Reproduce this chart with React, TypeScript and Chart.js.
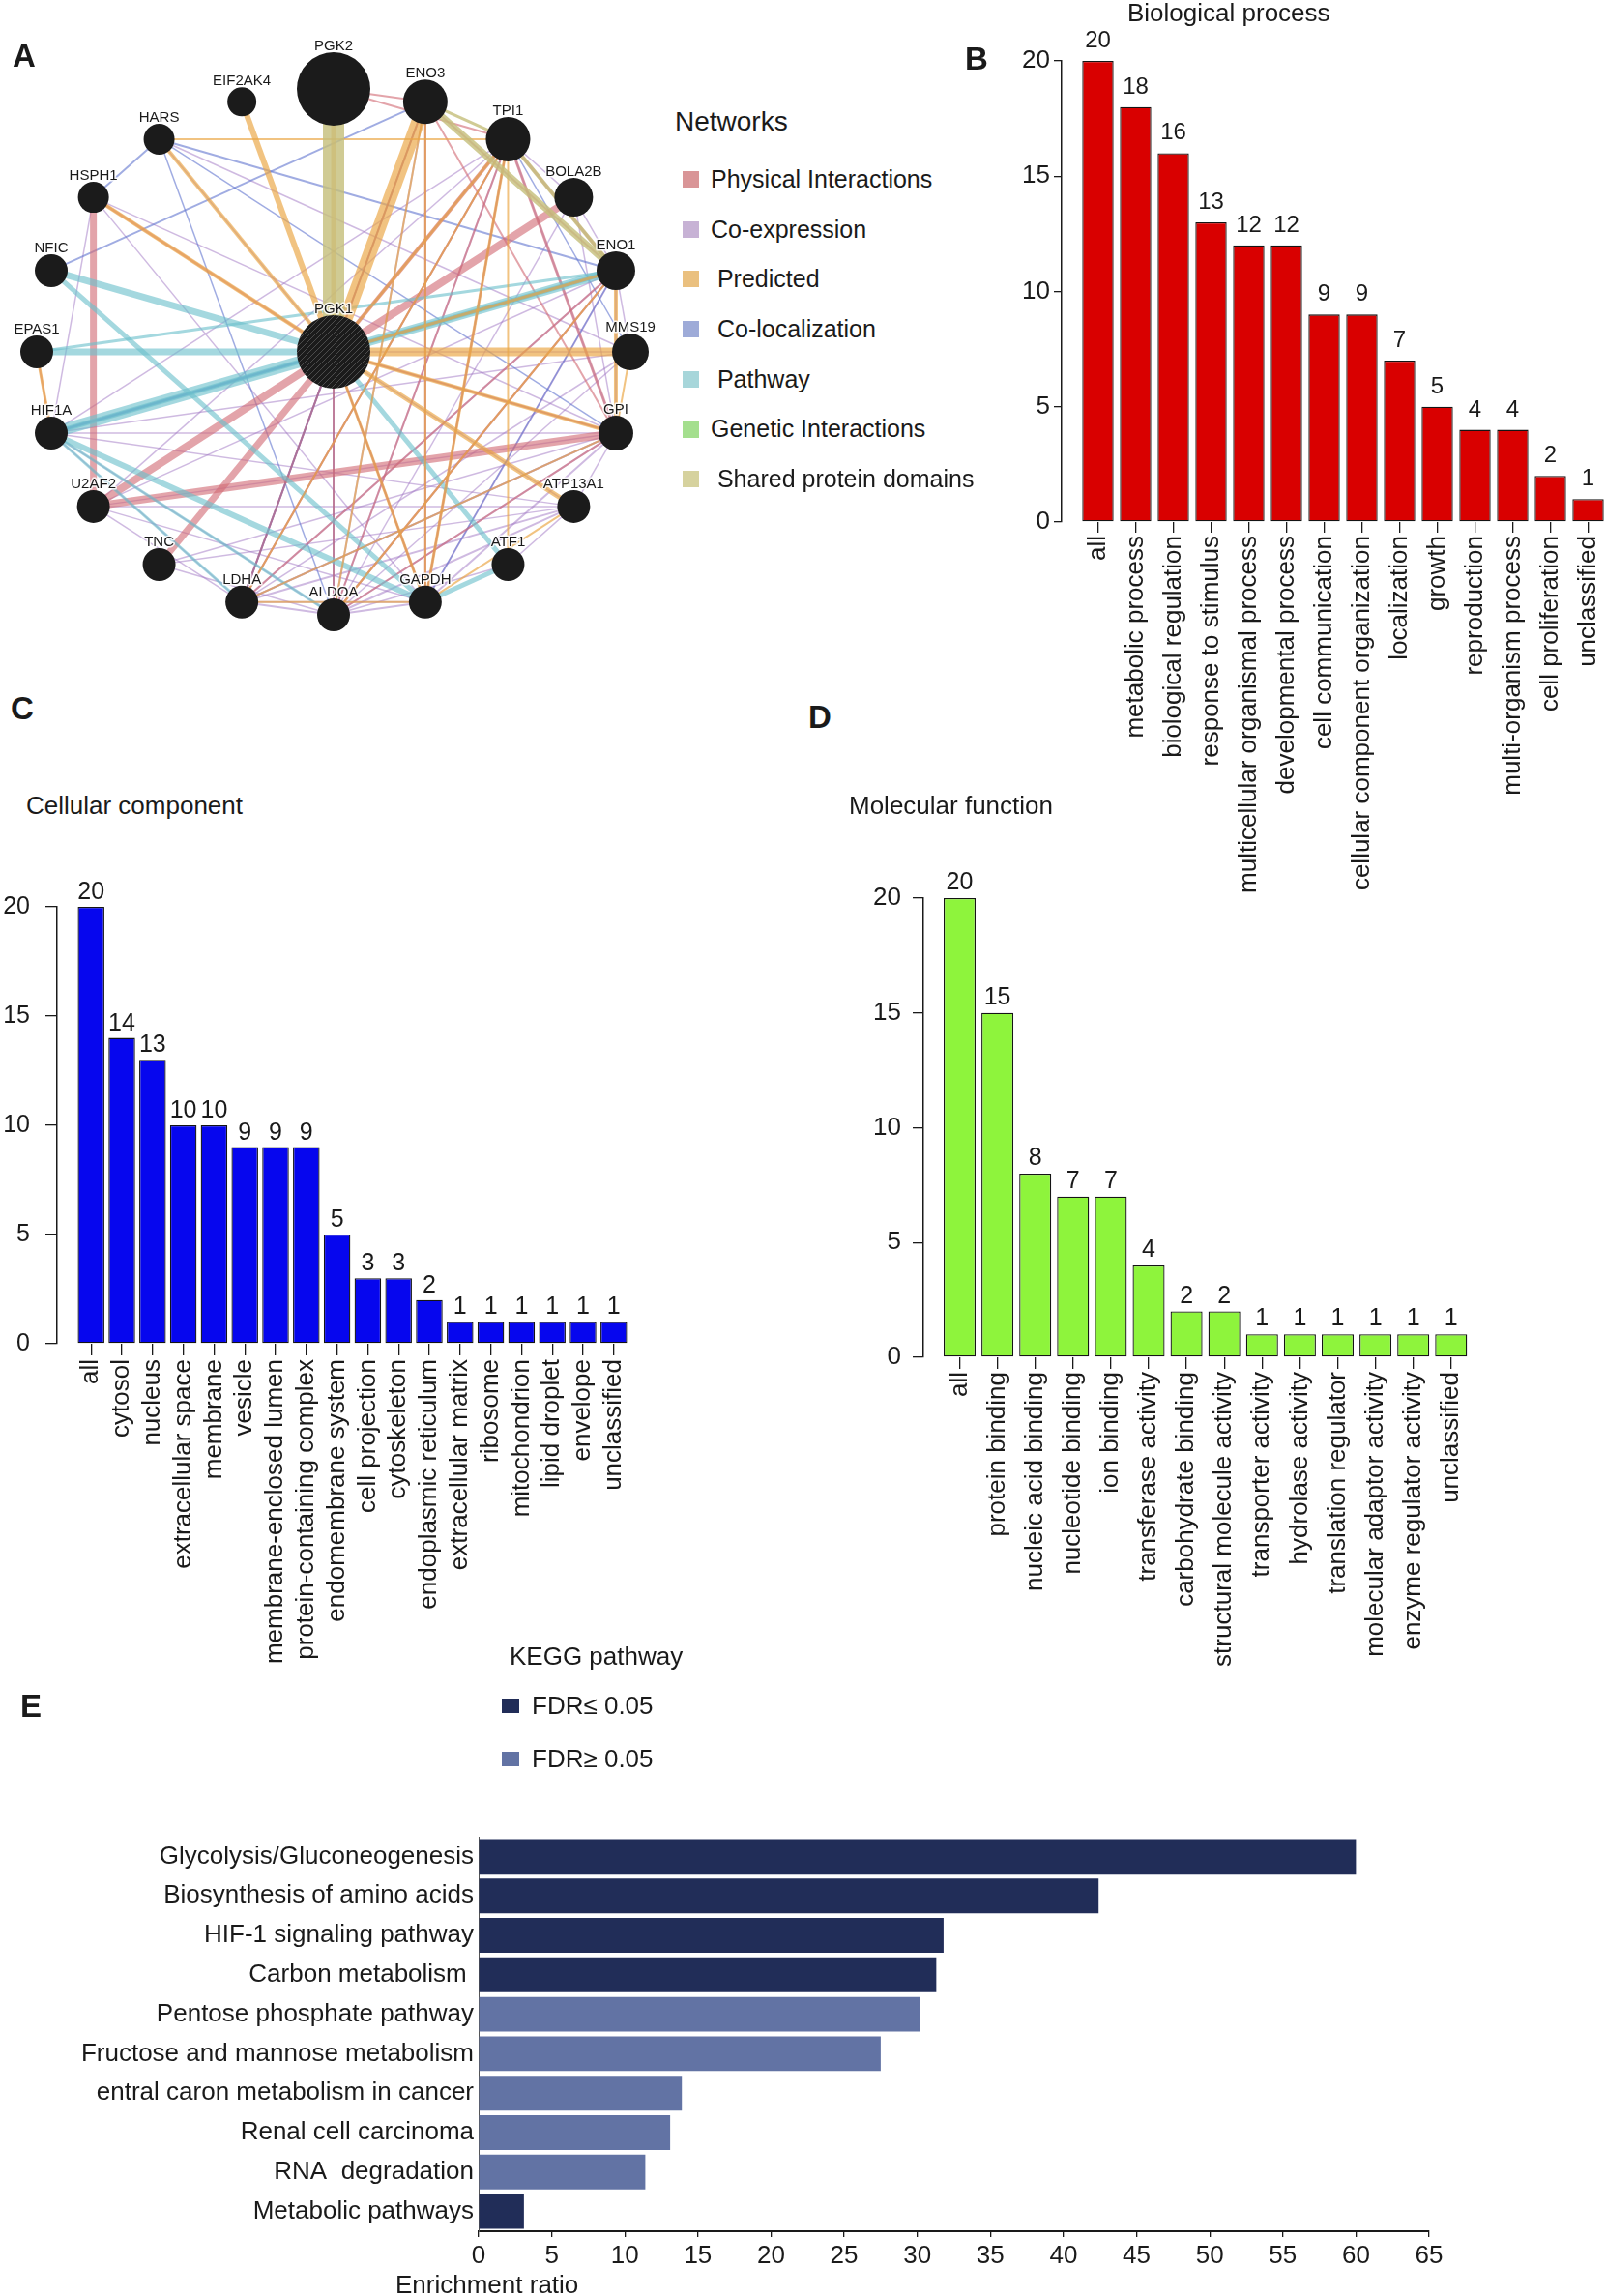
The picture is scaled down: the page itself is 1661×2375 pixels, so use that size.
import React, { useEffect, useRef } from 'react';
import { Chart, registerables } from 'chart.js';

Chart.register(...registerables);

const FONT = "'Liberation Sans', Arial, Helvetica, sans-serif";
Chart.defaults.font.family = FONT;
Chart.defaults.color = '#1a1a1a';

// ---------------- Panel A: network ----------------
const networkNodes = ['PGK1', 'PGK2', 'ENO3', 'TPI1', 'BOLA2B', 'ENO1', 'MMS19', 'GPI', 'ATP13A1', 'ATF1', 'GAPDH', 'ALDOA', 'LDHA', 'TNC', 'U2AF2', 'HIF1A', 'EPAS1', 'NFIC', 'HSPH1', 'HARS', 'EIF2AK4'];
const nodeRadius = [38, 38, 23, 23, 20, 20, 19, 18, 17, 17, 17, 17, 17, 17, 17, 17, 17, 17, 16, 16, 15];
const networkTypes = ['Physical Interactions', 'Co-expression', ' Predicted', ' Co-localization', ' Pathway', 'Genetic Interactions', ' Shared protein domains'];
const networkTypeKeys = ['phys', 'coexp', 'pred', 'coloc', 'path', 'gen', 'dom'];
const legendColors = ['#d99597', '#c7b2d5', '#eac07f', '#9eabd8', '#a7d6da', '#a4df8e', '#d6d29e'];
const edgeColors = ['rgba(210,108,118,0.62)', 'rgba(160,118,196,0.5)', 'rgba(234,166,70,0.68)', 'rgba(96,116,206,0.6)', 'rgba(108,192,204,0.62)', 'rgba(140,210,110,0.6)', 'rgba(198,192,124,0.82)'];
const networkEdges: [string, string, string, number][] = [
  ['PGK1', 'PGK2', 'dom', 22], ['ENO3', 'ENO1', 'dom', 7], ['TPI1', 'ENO1', 'dom', 4], ['ENO3', 'TPI1', 'dom', 3],
  ['PGK1', 'ENO3', 'pred', 14], ['PGK1', 'PGK2', 'pred', 5], ['PGK1', 'EIF2AK4', 'pred', 6], ['PGK1', 'MMS19', 'pred', 9],
  ['PGK1', 'HARS', 'pred', 4], ['PGK1', 'HSPH1', 'pred', 4], ['PGK1', 'ATP13A1', 'pred', 5], ['PGK1', 'GPI', 'pred', 4],
  ['PGK1', 'TPI1', 'pred', 3], ['PGK1', 'GAPDH', 'pred', 3], ['PGK1', 'ENO1', 'pred', 3], ['HARS', 'TPI1', 'pred', 2],
  ['ENO1', 'GPI', 'pred', 4], ['MMS19', 'GPI', 'pred', 2], ['EPAS1', 'HIF1A', 'pred', 3], ['TPI1', 'GAPDH', 'pred', 3],
  ['ENO3', 'GAPDH', 'pred', 2], ['TPI1', 'ATF1', 'pred', 2], ['ENO1', 'ALDOA', 'pred', 2], ['ENO3', 'ALDOA', 'pred', 2],
  ['GPI', 'LDHA', 'pred', 2], ['ATP13A1', 'GAPDH', 'pred', 2], ['LDHA', 'GAPDH', 'pred', 2], ['TPI1', 'LDHA', 'pred', 2],
  ['PGK1', 'HIF1A', 'path', 12], ['PGK1', 'NFIC', 'path', 7], ['PGK1', 'EPAS1', 'path', 7], ['PGK1', 'ENO1', 'path', 9],
  ['HIF1A', 'ENO1', 'path', 5], ['HIF1A', 'GAPDH', 'path', 6], ['NFIC', 'GAPDH', 'path', 5], ['PGK1', 'ATF1', 'path', 5],
  ['ATF1', 'GAPDH', 'path', 5], ['HIF1A', 'LDHA', 'path', 3], ['HIF1A', 'ALDOA', 'path', 3], ['EPAS1', 'ENO1', 'path', 3],
  ['HSPH1', 'U2AF2', 'phys', 7], ['U2AF2', 'GPI', 'phys', 8], ['U2AF2', 'BOLA2B', 'phys', 8], ['TNC', 'PGK1', 'phys', 7],
  ['PGK1', 'TPI1', 'phys', 4], ['HSPH1', 'PGK1', 'phys', 2.5], ['EPAS1', 'HIF1A', 'phys', 2], ['PGK2', 'ENO3', 'phys', 2],
  ['PGK2', 'TPI1', 'phys', 2], ['ENO3', 'GPI', 'phys', 2], ['ENO3', 'ENO1', 'phys', 2], ['TPI1', 'GPI', 'phys', 3],
  ['TPI1', 'ENO1', 'phys', 3], ['TPI1', 'GAPDH', 'phys', 2], ['TPI1', 'LDHA', 'phys', 2], ['TPI1', 'ALDOA', 'phys', 2],
  ['ENO1', 'LDHA', 'phys', 2], ['ENO1', 'ALDOA', 'phys', 2], ['ENO1', 'PGK1', 'phys', 3], ['GPI', 'ALDOA', 'phys', 2],
  ['GPI', 'PGK1', 'phys', 2], ['PGK1', 'GAPDH', 'phys', 2], ['PGK1', 'ALDOA', 'phys', 2], ['ENO3', 'LDHA', 'phys', 2],
  ['ENO3', 'GAPDH', 'phys', 2],
  ['NFIC', 'ENO3', 'coloc', 2], ['HSPH1', 'HARS', 'coloc', 2], ['HARS', 'ENO1', 'coloc', 2], ['HARS', 'ALDOA', 'coloc', 1.5],
  ['HIF1A', 'ENO1', 'coloc', 2], ['HIF1A', 'PGK1', 'coloc', 3], ['ENO3', 'LDHA', 'coloc', 1.5], ['PGK1', 'LDHA', 'coloc', 1.5],
  ['PGK1', 'ALDOA', 'coloc', 1.5], ['TPI1', 'MMS19', 'coloc', 1.5], ['HARS', 'GPI', 'coloc', 1.5], ['ENO1', 'GAPDH', 'coloc', 1.5],
  ['HIF1A', 'GPI', 'coexp', 1.5], ['HIF1A', 'ATP13A1', 'coexp', 1.5], ['U2AF2', 'ATP13A1', 'coexp', 1.5], ['HSPH1', 'HIF1A', 'coexp', 1.5],
  ['HSPH1', 'GAPDH', 'coexp', 1.5], ['HARS', 'MMS19', 'coexp', 1.5], ['HIF1A', 'ALDOA', 'coexp', 1.5], ['HIF1A', 'LDHA', 'coexp', 1.5],
  ['U2AF2', 'LDHA', 'coexp', 1.5], ['U2AF2', 'GAPDH', 'coexp', 1.5], ['TNC', 'ALDOA', 'coexp', 1.5], ['LDHA', 'ALDOA', 'coexp', 2],
  ['ALDOA', 'GAPDH', 'coexp', 2], ['LDHA', 'GAPDH', 'coexp', 2], ['GPI', 'LDHA', 'coexp', 2], ['GPI', 'ALDOA', 'coexp', 2],
  ['GPI', 'GAPDH', 'coexp', 2], ['ENO1', 'LDHA', 'coexp', 2], ['ENO1', 'ALDOA', 'coexp', 2], ['ENO1', 'GAPDH', 'coexp', 2],
  ['TPI1', 'LDHA', 'coexp', 2], ['TPI1', 'ALDOA', 'coexp', 2], ['TPI1', 'GAPDH', 'coexp', 2], ['ENO3', 'LDHA', 'coexp', 2],
  ['ENO3', 'ALDOA', 'coexp', 2], ['ENO3', 'GAPDH', 'coexp', 2], ['ATP13A1', 'LDHA', 'coexp', 2], ['ATP13A1', 'ALDOA', 'coexp', 2],
  ['MMS19', 'LDHA', 'coexp', 1.5], ['MMS19', 'ALDOA', 'coexp', 1.5], ['BOLA2B', 'ALDOA', 'coexp', 1.5], ['BOLA2B', 'GPI', 'coexp', 1.5],
  ['BOLA2B', 'ENO1', 'coexp', 1.5], ['TPI1', 'BOLA2B', 'coexp', 1.5], ['TPI1', 'GPI', 'coexp', 2], ['ENO1', 'GPI', 'coexp', 2],
  ['ENO1', 'MMS19', 'coexp', 1.5], ['GPI', 'ATP13A1', 'coexp', 1.5], ['PGK1', 'LDHA', 'coexp', 2], ['PGK1', 'ALDOA', 'coexp', 2],
  ['PGK1', 'GAPDH', 'coexp', 2], ['PGK1', 'GPI', 'coexp', 2], ['PGK1', 'ENO1', 'coexp', 2], ['PGK1', 'TPI1', 'coexp', 2],
  ['PGK1', 'MMS19', 'coexp', 1.5], ['PGK1', 'ATP13A1', 'coexp', 1.5], ['HARS', 'PGK1', 'coexp', 1.5], ['TPI1', 'HIF1A', 'coexp', 1.5],
  ['GPI', 'TNC', 'coexp', 1.5], ['ATF1', 'ALDOA', 'coexp', 1.5], ['ATP13A1', 'ATF1', 'coexp', 1.5],
  ['GPI', 'U2AF2', 'coexp', 1.5], ['ATP13A1', 'TNC', 'coexp', 1.5], ['GPI', 'HSPH1', 'coexp', 1.5], ['MMS19', 'HIF1A', 'coexp', 1.5],
  ['ENO1', 'HIF1A', 'coexp', 1.5], ['ENO1', 'U2AF2', 'coexp', 1.5], ['TPI1', 'U2AF2', 'coexp', 1.5], ['GPI', 'LDHA', 'coexp', 2],
];

// ---------------- Panel B: Biological process ----------------
const bpLabels = ['all', 'metabolic process', 'biological regulation', 'response to stimulus', 'multicellular organismal process', 'developmental process', 'cell communication', 'cellular component organization', 'localization', 'growth', 'reproduction', 'multi-organism process', 'cell proliferation', 'unclassified'];
const bpValues = [20, 18, 16, 13, 12, 12, 9, 9, 7, 5, 4, 4, 2, 1];

// ---------------- Panel C: Cellular component ----------------
const ccLabels = ['all', 'cytosol', 'nucleus', 'extracellular space', 'membrane', 'vesicle', 'membrane-enclosed lumen', 'protein-containing complex', 'endomembrane system', 'cell projection', 'cytoskeleton', 'endoplasmic reticulum', 'extracellular matrix', 'ribosome', 'mitochondrion', 'lipid droplet', 'envelope', 'unclassified'];
const ccValues = [20, 14, 13, 10, 10, 9, 9, 9, 5, 3, 3, 2, 1, 1, 1, 1, 1, 1];

// ---------------- Panel D: Molecular function ----------------
const mfLabels = ['all', 'protein binding', 'nucleic acid binding', 'nucleotide binding', 'ion binding', 'transferase activity', 'carbohydrate binding', 'structural molecule activity', 'transporter activity', 'hydrolase activity', 'translation regulator', 'molecular adaptor activity', 'enzyme regulator activity', 'unclassified'];
const mfValues = [20, 15, 8, 7, 7, 4, 2, 2, 1, 1, 1, 1, 1, 1];

// ---------------- Panel E: KEGG ----------------
const keggLabels = ['Glycolysis/Gluconeogenesis', 'Biosynthesis of amino acids', 'HIF-1 signaling pathway', 'Carbon metabolism ', 'Pentose phosphate pathway', 'Fructose and mannose metabolism', 'entral caron metabolism in cancer', 'Renal cell carcinoma', 'RNA  degradation', 'Metabolic pathways'];
const keggValues = [60, 42.4, 31.8, 31.3, 30.2, 27.5, 13.9, 13.1, 11.4, 3.1];
const keggSignificant = [true, true, true, true, false, false, false, false, false, true];
const keggLegend = ['FDR\u2264 0.05', 'FDR\u2265 0.05'];

const KEGG_DARK = '#212d58';
const KEGG_LIGHT = '#6273a4';

const valueLabelPlugin = {
  id: 'valueLabels',
  afterDatasetsDraw(chart: any, _args: any, opts: any) {
    if (!opts || !opts.size) return;
    const ctx = chart.ctx;
    const meta = chart.getDatasetMeta(0);
    const data = chart.data.datasets[0].data;
    ctx.save();
    ctx.font = `${opts.size}px ${FONT}`;
    ctx.fillStyle = '#1a1a1a';
    ctx.textAlign = 'center';
    ctx.textBaseline = 'alphabetic';
    meta.data.forEach((el: any, i: number) => {
      const d = data[i];
      const v = typeof d === 'number' ? d : d.y;
      ctx.fillText(String(v), el.x, el.y - opts.gap);
    });
    ctx.restore();
  },
};

const nodeLabelPlugin = {
  id: 'nodeLabels',
  afterDatasetsDraw(chart: any) {
    const ctx = chart.ctx;
    const meta = chart.getDatasetMeta(0);
    ctx.save();
    ctx.font = `15px ${FONT}`;
    ctx.textAlign = 'center';
    ctx.textBaseline = 'alphabetic';
    ctx.lineJoin = 'round';
    meta.data.forEach((el: any, i: number) => {
      const y = el.y - nodeRadius[i] - 2;
      ctx.strokeStyle = 'rgba(255,255,255,0.85)';
      ctx.lineWidth = 3;
      ctx.strokeText(networkNodes[i], el.x, y);
      ctx.fillStyle = '#1a1a1a';
      ctx.fillText(networkNodes[i], el.x, y);
    });
    ctx.restore();
  },
};

function makeHatch(): any {
  const c = document.createElement('canvas');
  c.width = 6;
  c.height = 6;
  const g = c.getContext('2d');
  if (!g) return '#1b1b1b';
  g.fillStyle = '#1b1b1b';
  g.fillRect(0, 0, 6, 6);
  g.strokeStyle = '#4c4c4c';
  g.lineWidth = 1;
  g.beginPath();
  g.moveTo(0, 6);
  g.lineTo(6, 0);
  g.stroke();
  return g.createPattern(c, 'repeat') || '#1b1b1b';
}

function makeNetworkConfig(): any {
  const ringCount = networkNodes.length - 1;
  const pos = networkNodes.map((_, i) => {
    if (i === 0) return { x: 0, y: 0 };
    const a = ((i - 1) * 2 * Math.PI) / ringCount;
    return { x: Math.sin(a), y: Math.cos(a) };
  });
  const idx = (n: string) => networkNodes.indexOf(n);
  const hatch = makeHatch();
  const edgeSets = networkEdges.map(([a, b, t, w]) => ({
    type: 'scatter',
    showLine: true,
    data: [pos[idx(a)], pos[idx(b)]],
    borderColor: edgeColors[networkTypeKeys.indexOf(t)],
    borderWidth: w,
    pointRadius: 0,
    pointHoverRadius: 0,
    clip: false,
    order: 1,
  }));
  const nodeSet = {
    type: 'scatter',
    data: pos,
    pointRadius: nodeRadius,
    pointHoverRadius: nodeRadius,
    pointBackgroundColor: (c: any) => (c.dataIndex === 0 ? hatch : '#1b1b1b'),
    pointBorderWidth: 0,
    clip: false,
    order: 0,
  };
  return {
    type: 'scatter',
    data: { datasets: [nodeSet, ...edgeSets] },
    options: {
      responsive: false,
      animation: false,
      events: [],
      layout: { padding: { left: 38, right: 38, top: 92, bottom: 44 } },
      plugins: { legend: { display: false }, tooltip: { enabled: false } },
      scales: {
        x: { type: 'linear', min: -1, max: 1, display: false },
        y: { type: 'linear', min: -1, max: 1, display: false },
      },
    },
    plugins: [nodeLabelPlugin],
  };
}

type BarLayout = {
  canvasLeft: number; canvasTop: number; canvasW: number; canvasH: number;
  axisX: number; firstCenter: number; pitch: number; right: number;
  areaTop: number; areaBottom: number; barPct: number;
  xTickLen: number; xPad: number; yTickLen: number; yPad: number;
  tickSize: number; labelSize: number; valueSize: number; valueGap: number;
};

function makeBarConfig(labels: string[], values: number[], color: string, L: BarLayout): any {
  const min = -(L.firstCenter - L.axisX) / L.pitch;
  const max = (L.right - L.firstCenter) / L.pitch;
  return {
    type: 'bar',
    data: {
      datasets: [{
        data: values.map((v, i) => ({ x: i, y: v })),
        backgroundColor: color,
        borderColor: '#141414',
        borderWidth: 1.3,
        borderSkipped: false,
        barPercentage: L.barPct,
        categoryPercentage: 1,
      }],
    },
    options: {
      responsive: false,
      animation: false,
      events: [],
      layout: { padding: { top: L.areaTop - L.canvasTop, right: L.canvasLeft + L.canvasW - L.right, left: 0, bottom: 0 } },
      plugins: { legend: { display: false }, tooltip: { enabled: false }, valueLabels: { size: L.valueSize, gap: L.valueGap } },
      scales: {
        x: {
          type: 'linear', min, max, offset: false,
          afterBuildTicks: (s: any) => { s.ticks = labels.map((_, i) => ({ value: i })); },
          ticks: { autoSkip: false, minRotation: 90, maxRotation: 90, padding: L.xPad, font: { size: L.labelSize }, callback: (v: number) => labels[v] ?? '' },
          grid: { drawOnChartArea: false, drawTicks: true, tickLength: L.xTickLen, color: '#1a1a1a', lineWidth: 1.3, offset: false },
          border: { display: false },
          afterFit: (s: any) => { s.height = L.canvasTop + L.canvasH - L.areaBottom; s.paddingLeft = 0; s.paddingRight = 0; },
        },
        y: {
          min: 0, max: 20,
          ticks: { stepSize: 5, padding: L.yPad, font: { size: L.tickSize } },
          grid: { drawOnChartArea: false, drawTicks: true, tickLength: L.yTickLen, color: '#1a1a1a', lineWidth: 1.3 },
          border: { display: true, color: '#1a1a1a', width: 1.5 },
          afterFit: (s: any) => { s.width = L.axisX - L.canvasLeft; },
        },
      },
    },
    plugins: [valueLabelPlugin],
  };
}

const bpLayout: BarLayout = { canvasLeft: 1000, canvasTop: 0, canvasW: 661, canvasH: 1000, axisX: 1098, firstCenter: 1135.5, pitch: 39, right: 1661, areaTop: 63, areaBottom: 540, barPct: 0.83, xTickLen: 11, xPad: 3, yTickLen: 8, yPad: 4, tickSize: 26, labelSize: 26, valueSize: 24, valueGap: 14 };
const ccLayout: BarLayout = { canvasLeft: 0, canvasTop: 880, canvasW: 700, canvasH: 880, axisX: 59, firstCenter: 94.2, pitch: 31.8, right: 660, areaTop: 938, areaBottom: 1390, barPct: 0.865, xTickLen: 12, xPad: 4, yTickLen: 12, yPad: 16, tickSize: 25, labelSize: 26, valueSize: 25, valueGap: 8 };
const mfLayout: BarLayout = { canvasLeft: 840, canvasTop: 880, canvasW: 700, canvasH: 880, axisX: 955, firstCenter: 992.5, pitch: 39.1, right: 1530, areaTop: 929, areaBottom: 1404, barPct: 0.845, xTickLen: 12, xPad: 3, yTickLen: 11, yPad: 12, tickSize: 26, labelSize: 26, valueSize: 25, valueGap: 9 };

function makeKeggConfig(): any {
  return {
    type: 'bar',
    data: {
      labels: keggLabels,
      datasets: [{
        data: keggValues,
        backgroundColor: keggSignificant.map((s) => (s ? KEGG_DARK : KEGG_LIGHT)),
        borderWidth: 0,
        barPercentage: 0.88,
        categoryPercentage: 1,
      }],
    },
    options: {
      indexAxis: 'y',
      responsive: false,
      animation: false,
      events: [],
      layout: { padding: { top: 40, right: 183, left: 0, bottom: 0 } },
      plugins: { legend: { display: false }, tooltip: { enabled: false } },
      scales: {
        x: {
          type: 'linear', min: 0, max: 65,
          ticks: { stepSize: 5, padding: 4, font: { size: 26 }, maxRotation: 0 },
          grid: { drawOnChartArea: false, drawTicks: true, tickLength: 6, color: '#1a1a1a', lineWidth: 1.3 },
          border: { display: true, color: '#1a1a1a', width: 2 },
          afterFit: (s: any) => { s.height = 52; s.paddingLeft = 0; s.paddingRight = 0; },
        },
        y: {
          ticks: { padding: 5, font: { size: 26 }, autoSkip: false },
          grid: { display: false, drawTicks: false },
          border: { display: true, color: '#555', width: 1 },
          afterFit: (s: any) => { s.width = 495; },
        },
      },
    },
  };
}

function ChartCanvas(props: { left: number; top: number; width: number; height: number; make: () => any }) {
  const ref = useRef<HTMLCanvasElement>(null);
  useEffect(() => {
    if (!ref.current) return;
    const chart = new Chart(ref.current, props.make());
    return () => chart.destroy();
  }, []);
  return (
    <canvas
      ref={ref}
      width={props.width}
      height={props.height}
      style={{ position: 'absolute', left: props.left, top: props.top, width: props.width, height: props.height }}
    />
  );
}

function Txt(props: { x: number; baseline: number; size: number; bold?: boolean; children: React.ReactNode }) {
  return (
    <div
      style={{
        position: 'absolute',
        left: props.x,
        top: props.baseline - 0.8465 * props.size,
        fontSize: props.size,
        lineHeight: 1,
        fontWeight: props.bold ? 700 : 400,
        whiteSpace: 'pre',
        fontFamily: FONT,
        color: '#1a1a1a',
      }}
    >
      {props.children}
    </div>
  );
}

export default function App() {
  useEffect(() => {
    document.body.style.margin = '0';
  }, []);
  const legendBaselines = networkTypes.map((_, i) => 194 + i * 51.7);
  return (
    <div style={{ position: 'relative', width: 1661, height: 2375, background: '#fff', overflow: 'hidden' }}>
      <ChartCanvas left={0} top={0} width={690} height={680} make={makeNetworkConfig} />
      <ChartCanvas left={bpLayout.canvasLeft} top={bpLayout.canvasTop} width={bpLayout.canvasW} height={bpLayout.canvasH} make={() => makeBarConfig(bpLabels, bpValues, '#d90000', bpLayout)} />
      <ChartCanvas left={ccLayout.canvasLeft} top={ccLayout.canvasTop} width={ccLayout.canvasW} height={ccLayout.canvasH} make={() => makeBarConfig(ccLabels, ccValues, '#0606ee', ccLayout)} />
      <ChartCanvas left={mfLayout.canvasLeft} top={mfLayout.canvasTop} width={mfLayout.canvasW} height={mfLayout.canvasH} make={() => makeBarConfig(mfLabels, mfValues, '#8ef43c', mfLayout)} />
      <ChartCanvas left={0} top={1860} width={1661} height={500} make={makeKeggConfig} />

      <Txt x={13} baseline={69} size={33} bold>A</Txt>
      <Txt x={998} baseline={72} size={33} bold>B</Txt>
      <Txt x={11} baseline={744} size={33} bold>C</Txt>
      <Txt x={836} baseline={753} size={33} bold>D</Txt>
      <Txt x={21} baseline={1776} size={33} bold>E</Txt>

      <Txt x={1166} baseline={22} size={26}>Biological process</Txt>
      <Txt x={27} baseline={842} size={26}>Cellular component</Txt>
      <Txt x={878} baseline={842} size={26}>Molecular function</Txt>

      <Txt x={698} baseline={136} size={28}>Networks</Txt>
      {networkTypes.map((t, i) => (
        <React.Fragment key={t}>
          <div style={{ position: 'absolute', left: 706, top: legendBaselines[i] - 17, width: 17, height: 17, background: legendColors[i] }} />
          <Txt x={735} baseline={legendBaselines[i]} size={25}>{t}</Txt>
        </React.Fragment>
      ))}

      <Txt x={527} baseline={1722} size={26}>KEGG pathway</Txt>
      {keggLegend.map((t, i) => (
        <React.Fragment key={t}>
          <div style={{ position: 'absolute', left: 519, top: 1757 + i * 55, width: 18, height: 15, background: i === 0 ? KEGG_DARK : KEGG_LIGHT }} />
          <Txt x={550} baseline={1773 + i * 55} size={26}>{t}</Txt>
        </React.Fragment>
      ))}
      <Txt x={409} baseline={2372} size={26}>Enrichment ratio</Txt>
    </div>
  );
}
